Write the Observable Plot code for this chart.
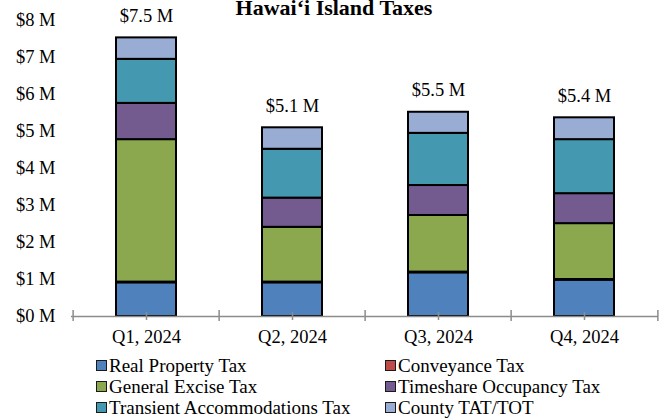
<!DOCTYPE html>
<html><head><meta charset="utf-8">
<script src="https://cdn.jsdelivr.net/npm/d3@7"></script>
<script src="https://cdn.jsdelivr.net/npm/@observablehq/plot@0.6"></script>
<style>
body{margin:0;background:#fff;font-family:"Liberation Serif","Times New Roman",serif;color:#000}
#wrap{position:relative;width:668px;height:420px;overflow:hidden;background:#fff}
#title{position:absolute;left:0;width:668px;text-align:center;top:-3px;font-weight:bold;font-size:22px;line-height:22px}
#legend{position:absolute;left:0;top:355px;width:668px}
.item{position:absolute;display:flex;align-items:center;height:21px;font-size:19px;white-space:nowrap}
.sw{width:11px;height:11px;box-sizing:border-box;border:1.5px solid #1a1a1a;margin-right:2px}
</style></head><body><div id="wrap"><div id="title"></div><div id="chart"></div><div id="legend"></div></div>
<script>
const title = "Hawaiʻi Island Taxes";
const quarters = ["Q1, 2024", "Q2, 2024", "Q3, 2024", "Q4, 2024"];
const seriesNames = ["Real Property Tax", "Conveyance Tax", "General Excise Tax", "Timeshare Occupancy Tax", "Transient Accommodations Tax", "County TAT/TOT"];
const colors = ["#4f81bd", "#be4b48", "#8ba84f", "#735a8f", "#4499b0", "#98acd4"];
const realProperty = [0.91, 0.91, 1.18, 0.98];
const conveyance = [0.02, 0.02, 0.02, 0.02];
const generalExcise = [3.85, 1.48, 1.53, 1.51];
const timeshare = [0.98, 0.79, 0.81, 0.81];
const transient = [1.19, 1.32, 1.41, 1.46];
const county = [0.58, 0.58, 0.57, 0.59];
const yTicks = [0, 1, 2, 3, 4, 5, 6, 7, 8];

const seriesValues = [realProperty, conveyance, generalExcise, timeshare, transient, county];
const rows = [];
seriesNames.forEach((s, i) => quarters.forEach((q, j) => rows.push({quarter: q, series: s, value: seriesValues[i][j]})));
const totals = quarters.map((q, j) => ({quarter: q, total: d3.sum(seriesValues, v => v[j])}));

const width = 668, height = 345, mL = 71, mR = 10, mT = 20, mB = 29;
const frameH = height - mT - mB;
const step = (width - mL - mR) / quarters.length;
const axisGray = "#8c8c8c";
const fs = 18.5;

const chart = Plot.plot({
  width, height, marginLeft: mL, marginRight: mR, marginTop: mT, marginBottom: mB,
  style: {fontFamily: "'Liberation Serif', 'Times New Roman', serif", fontSize: fs + "px", color: "#000", background: "transparent", overflow: "visible"},
  x: {domain: quarters, paddingInner: 0.59, paddingOuter: 0.295, label: null},
  y: {domain: [0, 8], label: null},
  color: {domain: seriesNames, range: colors},
  marks: [
    Plot.axisY(yTicks, {tickSize: 0, tickPadding: 16, tickFormat: d => `$${d} M`, fontSize: fs, label: null}),
    Plot.barY(rows, {x: "quarter", y: "value", fill: "series", stroke: "#000", strokeWidth: 2, order: seriesNames}),
    Plot.ruleY([0], {stroke: axisGray, strokeWidth: 1.5}),
    Plot.ruleX(quarters, {x: d => d, stroke: axisGray, strokeWidth: 1.5, insetTop: frameH - 4, insetBottom: -4}),
    Plot.ruleX(quarters, {x: d => d, dx: -step / 2, stroke: axisGray, strokeWidth: 1.5, insetTop: frameH - 6, insetBottom: -5}),
    Plot.ruleX(quarters.slice(-1), {x: d => d, dx: step / 2, stroke: axisGray, strokeWidth: 1.5, insetTop: frameH - 6, insetBottom: -5}),
    Plot.axisX({tickSize: 0, tickPadding: 13, fontSize: fs, label: null}),
    Plot.text(totals, {x: "quarter", y: "total", text: d => `$${d3.format(".1f")(d.total)} M`, dy: -22, fontSize: fs, fill: "#000"})
  ]
});
document.getElementById("chart").appendChild(chart);
document.getElementById("title").textContent = title;

const legend = document.getElementById("legend");
const colX = [96, 385];
seriesNames.forEach((s, i) => {
  const el = document.createElement("div");
  el.className = "item";
  el.style.left = colX[i % 2] + "px";
  el.style.top = (Math.floor(i / 2) * 21) + "px";
  const sw = document.createElement("span");
  sw.className = "sw";
  sw.style.background = colors[i];
  const t = document.createElement("span");
  t.textContent = s;
  el.appendChild(sw); el.appendChild(t);
  legend.appendChild(el);
});
</script>
</body></html>
